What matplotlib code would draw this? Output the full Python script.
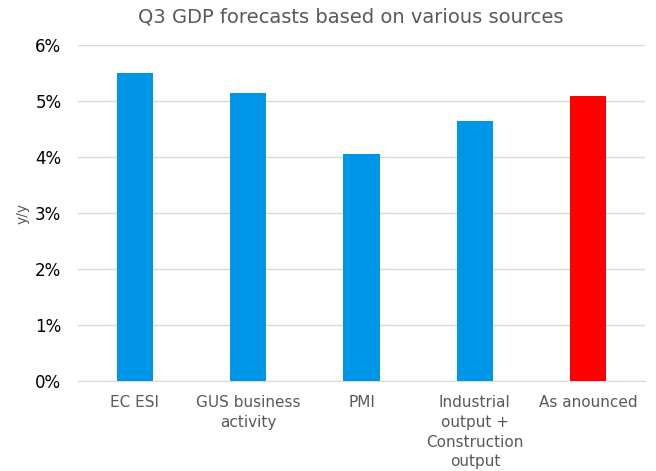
import matplotlib.pyplot as plt
from matplotlib.ticker import PercentFormatter

# GDP y/y forecasts for Q3, in percent
categories = ['EC ESI', 'GUS business\nactivity', 'PMI',
              'Industrial\noutput +\nConstruction\noutput', 'As anounced']
values = [5.5, 5.15, 4.05, 4.65, 5.1]
colors = ['#0096E8', '#0096E8', '#0096E8', '#0096E8', '#FF0000']

fig = plt.figure(figsize=(6.56, 4.71), dpi=100)
ax = fig.add_axes([0.119, 0.191, 0.864, 0.713])

x = range(len(categories))
ax.bar(x, values, width=0.32, color=colors, zorder=3)

ax.set_ylim(0, 6)
ax.set_xlim(-0.5, len(categories) - 0.5)
ax.set_yticks(range(0, 7))
ax.yaxis.set_major_formatter(PercentFormatter(decimals=0))
ax.set_xticks(list(x))
ax.set_xticklabels(categories, color='#595959', fontsize=11, linespacing=1.4)
ax.tick_params(axis='y', labelsize=12, length=0, pad=12)
ax.tick_params(axis='x', length=0, pad=10)

ax.grid(axis='y', color='#D9D9D9', linewidth=1, zorder=0)
for side in ['top', 'right', 'left']:
    ax.spines[side].set_visible(False)
ax.spines['bottom'].set_color('#D9D9D9')

ax.set_ylabel('y/y', fontsize=10, color='#595959', labelpad=4)
fig.suptitle('Q3 GDP forecasts based on various sources', x=0.535, y=0.985,
             fontsize=14, color='#595959')

fig.savefig('out.png', dpi=100)
